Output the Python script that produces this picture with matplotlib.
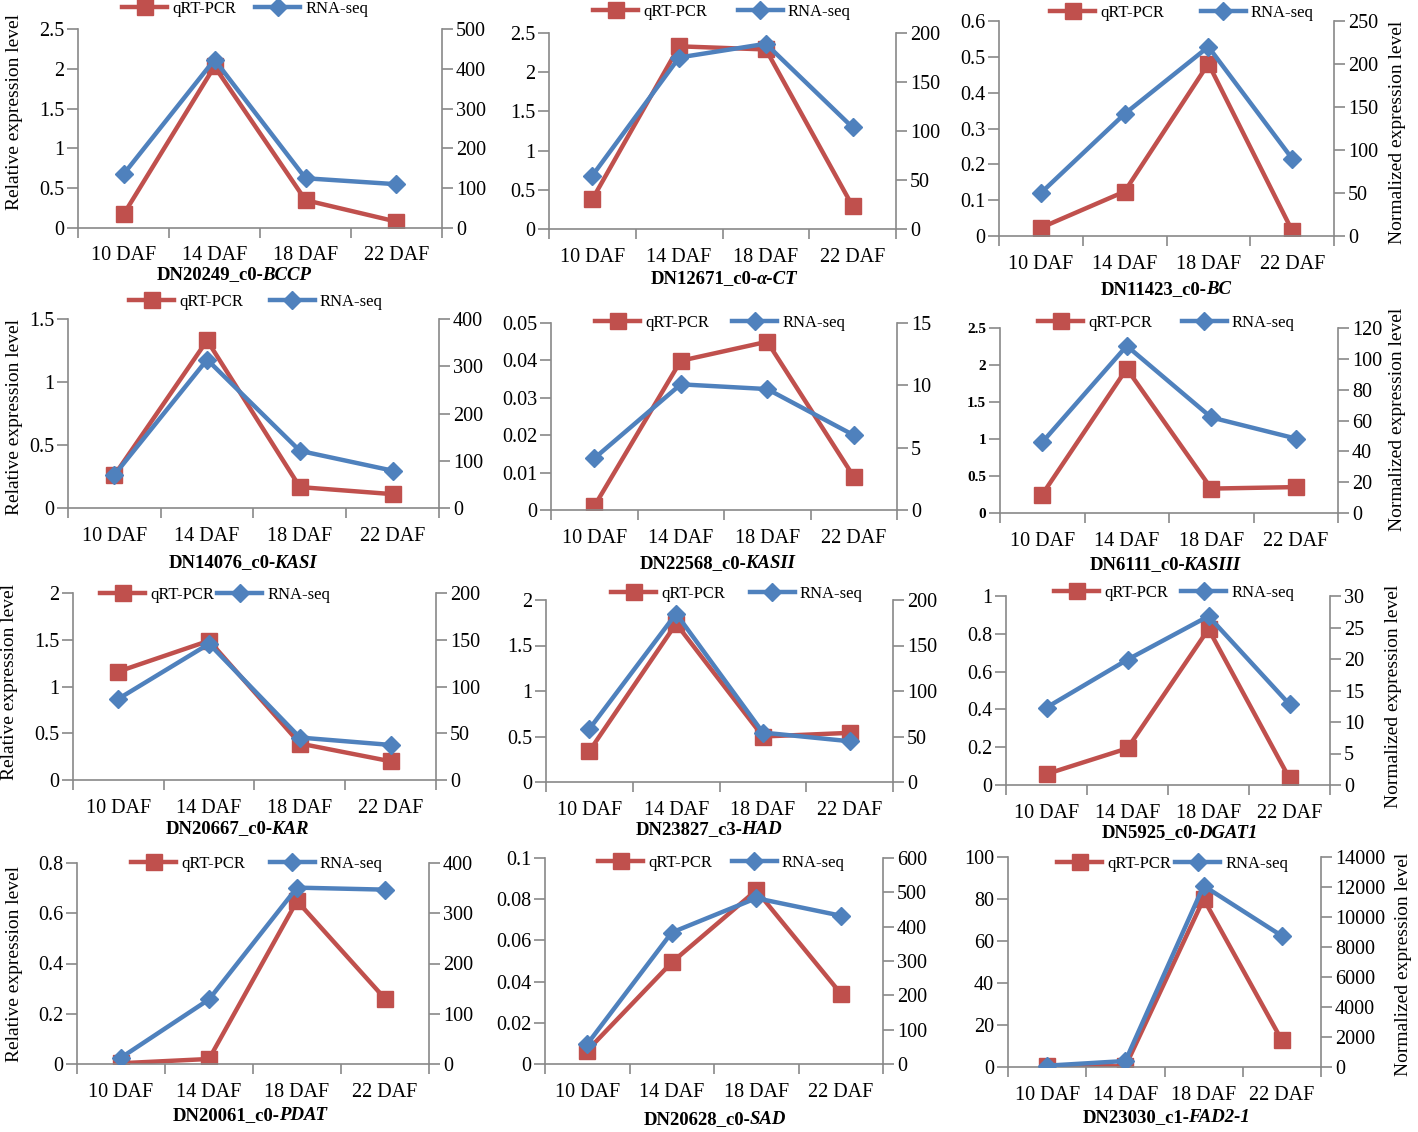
import numpy as np
import matplotlib
matplotlib.use("Agg")
import matplotlib.pyplot as plt
from matplotlib.offsetbox import TextArea, HPacker, AnchoredOffsetbox

W, H = 1418, 1132
SERIF = "Liberation Serif"
RED = "#C0504D"
BLUE = "#4F81BD"
GRAY = "#898989"

categories = ["10 DAF", "14 DAF", "18 DAF", "22 DAF"]

title_prefix = ["DN20249_c0-", "DN12671_c0-", "DN11423_c0-",
                "DN14076_c0-", "DN22568_c0-", "DN6111_c0-",
                "DN20667_c0-", "DN23827_c3-", "DN5925_c0-",
                "DN20061_c0-", "DN20628_c0-", "DN23030_c1-"]
gene_names = ["BCCP", "α-CT", "BC", "KASI", "KASII", "KASIII",
              "KAR", "HAD", "DGAT1", "PDAT", "SAD", "FAD2-1"]

qrt_pcr = [
    [0.17, 2.03, 0.35, 0.08],
    [0.38, 2.33, 2.29, 0.29],
    [0.023, 0.124, 0.481, 0.015],
    [0.26, 1.33, 0.166, 0.11],
    [0.001, 0.0399, 0.045, 0.0089],
    [0.25, 1.95, 0.33, 0.35],
    [1.16, 1.49, 0.39, 0.20],
    [0.34, 1.74, 0.50, 0.54],
    [0.058, 0.194, 0.825, 0.035],
    [0.003, 0.02, 0.649, 0.26],
    [0.0065, 0.0493, 0.0843, 0.0342],
    [0.6, 0.3, 80.0, 12.7],
]
rna_seq = [
    [135, 423, 125, 110],
    [54.5, 175, 189, 103.6],
    [50, 142, 220, 90],
    [70, 314, 121, 79],
    [4.14, 10.08, 9.7, 6.0],
    [45.9, 108.4, 62, 48.3],
    [86.8, 145.7, 45.4, 37.5],
    [58.3, 185, 54.3, 44.8],
    [12.3, 19.9, 26.8, 12.8],
    [12.6, 128.5, 351, 347],
    [58, 383, 483, 432],
    [89, 400, 12080, 8740],
]
left_max = [2.5, 2.5, 0.6, 1.5, 0.05, 2.5, 2, 2, 1, 0.8, 0.1, 100]
left_step = [0.5, 0.5, 0.1, 0.5, 0.01, 0.5, 0.5, 0.5, 0.2, 0.2, 0.02, 20]
right_max = [500, 200, 250, 400, 15, 120, 200, 200, 30, 400, 600, 14000]
right_step = [100, 50, 50, 100, 5, 20, 50, 50, 5, 100, 100, 2000]

# layout in pixels: left, right, top, bottom of plot area
boxes = [
    (78, 442, 29, 228), (549, 896, 33, 229), (999, 1334, 21, 236),
    (68, 439, 319, 508), (551, 897, 323, 510), (1000, 1338, 328, 513),
    (73, 436, 593, 780), (546, 893, 600, 782), (1006, 1330, 596, 785),
    (77, 429, 863, 1064), (545, 883, 858, 1064), (1008, 1321, 857, 1067),
]
legend_pos = [(122, 9), (593, 12), (1050, 13), (129, 302), (595, 323), (1038, 323),
              (100, 595), (611, 594), (1054, 593), (131, 864), (598, 863), (1057, 864)]
legend_colsp = [1.15, 1.85, 2.2, 1.6, 1.4, 1.8, 0.2, 1.5, 0.8, 1.5, 1.2, 0.25]
title_pos = [(234, 275), (724, 279), (1166, 290), (243, 563), (717, 564), (1165, 565),
             (237, 829), (709, 830), (1180, 833), (250, 1116), (715, 1120), (1166, 1118)]

fig = plt.figure(figsize=(W / 100, H / 100), dpi=100)
fig.patch.set_facecolor("white")

x = np.arange(len(categories))

for i in range(12):
    l, r, t, b = boxes[i]
    ax = fig.add_axes([l / W, 1 - b / H, (r - l) / W, (b - t) / H])
    ax2 = ax.twinx()
    ax2.set_position(ax.get_position())

    h1, = ax.plot(x, qrt_pcr[i], color=RED, lw=3.2, marker="s", ms=11,
                  label="qRT-PCR", solid_joinstyle="miter")
    h2, = ax2.plot(x, rna_seq[i], color=BLUE, lw=3.2, marker="D", ms=9.5,
                   label="RNA-seq", solid_joinstyle="miter")

    ax.set_xlim(-0.5, 3.5)
    ax.set_ylim(0, left_max[i])
    ax2.set_ylim(0, right_max[i])
    lt = np.arange(0, left_max[i] + left_step[i] / 2, left_step[i])
    rt = np.arange(0, right_max[i] + right_step[i] / 2, right_step[i])
    ax.set_yticks(lt)
    ax.set_yticklabels([f"{v:g}" for v in lt])
    ax2.set_yticks(rt)
    ax2.set_yticklabels([f"{v:g}" for v in rt])

    ax.set_xticks(np.arange(-0.5, 4.0, 1.0))
    ax.set_xticklabels([])
    ax.set_xticks(x, minor=True)
    ax.set_xticklabels(categories, minor=True, fontfamily=SERIF, fontsize=14.5)
    ax.tick_params(axis="x", which="minor", length=0, pad=13 if i == 0 else 14)
    ax.tick_params(axis="x", which="major", length=7, width=1.2, color=GRAY, direction="out")

    lfont = dict(fontfamily=SERIF, fontsize=14.5)
    if i == 5:
        lfont = dict(fontfamily=SERIF, fontsize=11, fontweight="bold")
    for lab in ax.get_yticklabels():
        lab.set(**lfont)
    for lab in ax2.get_yticklabels():
        lab.set(fontfamily=SERIF, fontsize=14.5)
    ax.tick_params(axis="y", length=8, width=1.2, color=GRAY, direction="out", pad=2)
    ax2.tick_params(axis="y", length=8, width=1.2, color=GRAY, direction="out", pad=2)

    for a in (ax, ax2):
        a.spines["top"].set_visible(False)
        for s in ("left", "right", "bottom"):
            a.spines[s].set_color(GRAY)
            a.spines[s].set_linewidth(1.2)
        a.patch.set_visible(False)
    ax2.spines["left"].set_visible(False)
    ax2.spines["bottom"].set_visible(False)
    ax.spines["right"].set_visible(False)

    lx, ly = legend_pos[i]
    ax2.legend([h1, h2], ["qRT-PCR", "RNA-seq"], loc="center left",
               bbox_to_anchor=(lx / W, 1 - ly / H), bbox_transform=fig.transFigure,
               ncol=2, frameon=False, borderpad=0, borderaxespad=0,
               handlelength=2.7, handletextpad=0.3, columnspacing=legend_colsp[i],
               prop=dict(family=SERIF, size=12))

    base = dict(fontfamily=SERIF, fontsize=13.5, fontweight="bold")
    ita = dict(base, fontstyle="italic")
    pack = HPacker(children=[TextArea(title_prefix[i], textprops=base),
                             TextArea(gene_names[i], textprops=ita)],
                   align="baseline", pad=0, sep=-1)
    cx, cy = title_pos[i]
    anc = AnchoredOffsetbox(loc="center", child=pack, pad=0, borderpad=0, frameon=False,
                            bbox_to_anchor=(cx / W, 1 - cy / H),
                            bbox_transform=fig.transFigure)
    fig.add_artist(anc)

left_labels = [(15, 112), (15, 417), (10, 682), (15, 964)]
right_labels = [(1397, 132), (1397, 419), (1393, 696), (1403, 964)]
for (px, py) in left_labels:
    fig.text(px / W, 1 - py / H, "Relative expression level", rotation=90,
             ha="center", va="center", fontfamily=SERIF, fontsize=14)
for (px, py) in right_labels:
    fig.text(px / W, 1 - py / H, "Normalized expression level", rotation=90,
             ha="center", va="center", fontfamily=SERIF, fontsize=14)

fig.savefig("out.png", dpi=100, facecolor="white")
